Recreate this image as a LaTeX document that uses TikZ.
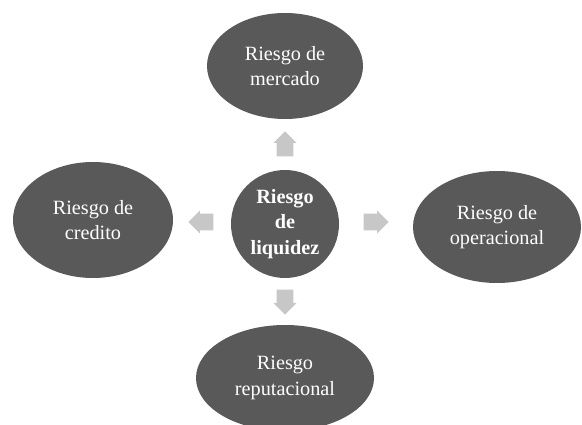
\documentclass[tikz,border=0pt]{standalone}
\usepackage{fontspec}
\setmainfont{Liberation Serif}
\usetikzlibrary{shapes.geometric, shapes.arrows}

\begin{document}
\begin{tikzpicture}[
        riesgo/.style={ellipse, fill=black!65, text=white, inner sep=0pt,
                       font=\Large, align=center},
        flecha/.style={single arrow, fill=black!22, draw=none, inner sep=0.2cm,
                       minimum height=0.6cm, single arrow head extend=0.08cm}
    ]
        \useasboundingbox (-7.125,5.6) rectangle (7.425,-5.025);

        \node[riesgo, circle, minimum size=2.7cm, font=\Large\bfseries] (liq) at (0, 0) {Riesgo\\de\\liquidez};
        \node[riesgo, minimum width=3.9cm, minimum height=2.65cm] (mer) at (0, 3.95) {Riesgo de\\mercado};
        \node[riesgo, minimum width=4.0cm, minimum height=2.9cm] (cre) at (-4.8, 0.1) {Riesgo de\\credito};
        \node[riesgo, minimum width=4.2cm, minimum height=2.8cm] (ope) at (5.3, -0.075) {Riesgo de\\operacional};
        \node[riesgo, minimum width=4.45cm, minimum height=2.65cm] (rep) at (0, -3.85) {Riesgo\\reputacional};

        \node[flecha, rotate=90] (a1) at (0, 1.9) {};
        \node[flecha, rotate=180] (a2) at (-2.0, 0.05) {};
        \node[flecha] (a3) at (2.175, 0.05) {};
        \node[flecha, rotate=-90] (a4) at (0, -1.85) {};
    \end{tikzpicture}
\end{document}
